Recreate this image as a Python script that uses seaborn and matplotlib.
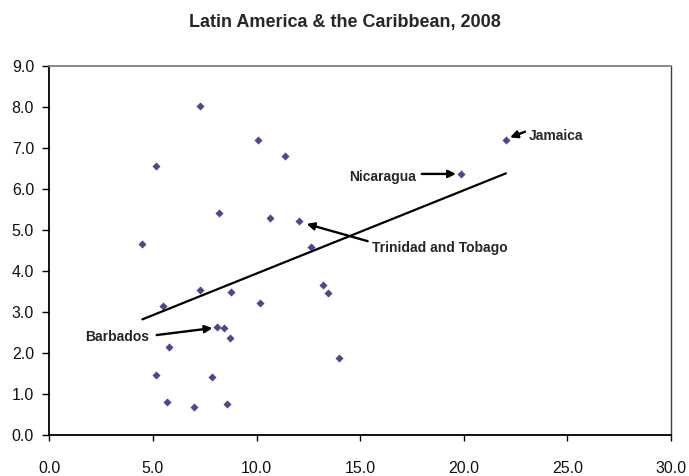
import matplotlib
matplotlib.use("Agg")
import matplotlib.pyplot as plt
import seaborn as sns
import numpy as np
import pandas as pd

# data
x_vals = [7.25, 5.13, 10.07, 11.37, 8.19, 10.65, 12.03, 4.49, 12.64,
          7.25, 5.50, 8.77, 10.15, 13.20, 13.43, 8.10, 8.41, 8.72,
          5.79, 13.99, 5.13, 7.86, 5.66, 6.97, 8.56, 22.03, 19.85]
y_vals = [8.02, 6.56, 7.19, 6.80, 5.41, 5.28, 5.20, 4.65, 4.57,
          3.52, 3.14, 3.47, 3.21, 3.65, 3.45, 2.63, 2.61, 2.35,
          2.13, 1.88, 1.46, 1.41, 0.80, 0.68, 0.75, 7.18, 6.36]
x_ticks = [0.0, 5.0, 10.0, 15.0, 20.0, 25.0, 30.0]
y_ticks = [0.0, 1.0, 2.0, 3.0, 4.0, 5.0, 6.0, 7.0, 8.0, 9.0]
title = "Latin America & the Caribbean, 2008"

df = pd.DataFrame({"x": x_vals, "y": y_vals})

sns.set_style("white")
plt.rcParams["font.family"] = ["Liberation Sans", "DejaVu Sans"]

fig = plt.figure(figsize=(6.89, 4.76), dpi=100)
ax = fig.add_axes([0.0716, 0.0868, 0.974 - 0.0716, 0.862 - 0.0868])

sns.regplot(data=df, x="x", y="y", ax=ax, ci=None,
            marker="D",
            scatter_kws=dict(s=17, color="#1C1C70", linewidths=0, zorder=3),
            line_kws=dict(color="black", lw=1.6, zorder=2))

ax.set_xlim(0, 30)
ax.set_ylim(0, 9)
ax.set_xticks(x_ticks)
ax.set_yticks(y_ticks)
ax.set_xticklabels([f"{v:.1f}" for v in x_ticks])
ax.set_yticklabels([f"{v:.1f}" for v in y_ticks])
ax.set_xlabel("")
ax.set_ylabel("")

for s in ["left", "bottom"]:
    ax.spines[s].set_color("black")
    ax.spines[s].set_linewidth(1.3)
ax.spines["top"].set_color("#808080")
ax.spines["top"].set_linewidth(1.3)
ax.spines["right"].set_color("#404040")
ax.spines["right"].set_linewidth(1.0)

ax.tick_params(axis="x", direction="out", length=4, width=1, pad=15,
               labelsize=11.5, color="black", bottom=True)
ax.tick_params(axis="y", direction="out", length=5, width=1, pad=6,
               labelsize=11.5, color="black", left=True)
for lbl in ax.get_xticklabels() + ax.get_yticklabels():
    lbl.set_color("#111111")

fig.text(0.5, 1 - 22.5 / 476, title, ha="center", va="center",
         fontsize=13, fontweight="bold")

arrow = dict(arrowstyle="-|>", color="black", lw=1.7, mutation_scale=11,
             shrinkA=0, shrinkB=0)
fs = 10
# Barbados
ax.annotate("", xy=(7.87, 2.60), xytext=(5.18, 2.43), arrowprops=arrow)
ax.text(4.83, 2.39, "Barbados", ha="right", va="center", fontsize=fs,
        fontweight="bold")
# Trinidad and Tobago
ax.annotate("", xy=(12.42, 5.14), xytext=(15.36, 4.72), arrowprops=arrow)
ax.text(15.56, 4.55, "Trinidad and Tobago", ha="left", va="center",
        fontsize=fs, fontweight="bold")
# Nicaragua
ax.annotate("", xy=(19.62, 6.36), xytext=(17.97, 6.36), arrowprops=arrow)
ax.text(17.68, 6.29, "Nicaragua", ha="right", va="center", fontsize=fs,
        fontweight="bold")
# Jamaica
ax.annotate("", xy=(22.23, 7.25), xytext=(22.95, 7.39), arrowprops=arrow)
ax.text(23.11, 7.29, "Jamaica", ha="left", va="center", fontsize=fs,
        fontweight="bold")

fig.savefig("out.png", dpi=100)
